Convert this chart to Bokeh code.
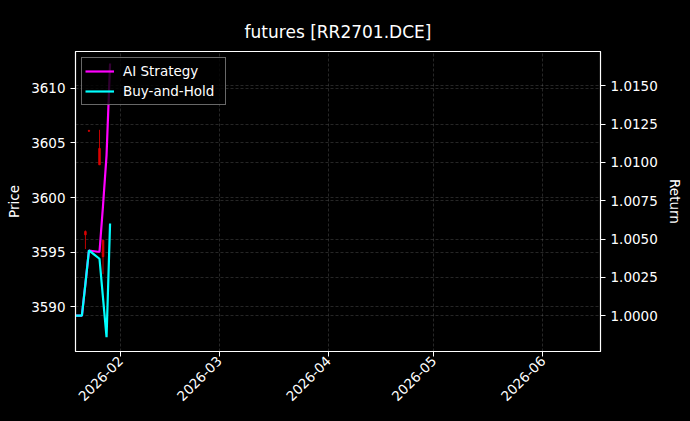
import math
from datetime import datetime
from bokeh.plotting import figure
from bokeh.models import (Range1d, LinearAxis, Grid, Legend, LegendItem, FixedTicker,
                          PrintfTickFormatter, DatetimeTickFormatter, Title,
                          SingleIntervalTicker)
from bokeh.embed import file_html
from bokeh.resources import INLINE

# ---------------- data ----------------
dates = ["2026-01-19", "2026-01-20", "2026-01-21", "2026-01-22", "2026-01-23",
         "2026-01-26", "2026-01-27", "2026-01-28", "2026-01-29"]
ai_strategy = [1.0000, 1.0000, 1.0000, 1.00209, 1.00425, 1.00415, 1.00719, 1.01046, 1.01647]
buy_and_hold = [1.0000, 1.0000, 1.0000, 1.00209, 1.00425, 1.00371, 1.00114, 0.99858, 1.00601]

candle_dates = ["2026-01-22", "2026-01-23", "2026-01-26", "2026-01-27"]
candle_open = [3596.9, 3606.12, 3604.5, 3596.1]
candle_high = [3597.0, 3606.2, 3606.2, 3596.1]
candle_low = [3595.3, 3606.0, 3603.0, 3593.0]
candle_close = [3596.6, 3606.08, 3603.0, 3594.6]

title_text = "futures [RR2701.DCE]"
left_label = "Price"
right_label = "Return"
month_ticks = ["2026-02-01", "2026-03-01", "2026-04-01", "2026-05-01", "2026-06-01"]

# ---------------- helpers ----------------
EPOCH = datetime(1970, 1, 1)

def to_dt(s):
    return datetime.strptime(s, "%Y-%m-%d")

def to_ms(dt):
    return (dt - EPOCH).total_seconds() * 1000.0

xd = [to_dt(d) for d in dates]
cd = [to_dt(d) for d in candle_dates]
tick_ms = [to_ms(to_dt(d)) for d in month_ticks]

FONT = "DejaVu Sans"
TICK_FS = "13.5px"

p = figure(width=690, height=421, x_axis_type="datetime",
           output_backend="svg", toolbar_location=None,
           x_range=Range1d(datetime(2026, 1, 19, 4, 19), datetime(2026, 6, 17, 8, 10)),
           y_range=Range1d(3585.93, 3613.36),
           min_border_left=75, min_border_right=90, min_border_top=51, min_border_bottom=70)
p.background_fill_color = "black"
p.border_fill_color = "black"
p.outline_line_color = "white"
p.outline_line_width = 1.2

p.extra_y_ranges = {"ret": Range1d(0.99765, 1.01725)}

# candles (price, left axis)
p.segment(x0=cd, y0=candle_low, x1=cd, y1=candle_high, color="#e00000", line_width=1, line_alpha=0.85)
p.vbar(x=cd, top=[max(o, c) for o, c in zip(candle_open, candle_close)],
       bottom=[min(o, c) for o, c in zip(candle_open, candle_close)],
       width=0.45 * 86400000, fill_color="#e00000", line_color="#e00000", alpha=0.85)

# strategy lines (return, right axis)
r_ai = p.line(xd, ai_strategy, y_range_name="ret", line_color="#ff00ff", line_width=2.2)
r_bh = p.line(xd, buy_and_hold, y_range_name="ret", line_color="#00ffff", line_width=2.2)

# axes styling
def style_axis(ax):
    ax.axis_line_color = "white"
    ax.major_tick_line_color = "white"
    ax.minor_tick_line_color = None
    ax.major_tick_out = 5
    ax.major_tick_in = 0
    ax.major_label_text_color = "white"
    ax.major_label_text_font = FONT
    ax.major_label_text_font_size = TICK_FS
    ax.axis_label_text_color = "white"
    ax.axis_label_text_font = FONT
    ax.axis_label_text_font_size = TICK_FS
    ax.axis_label_text_font_style = "normal"

xa = p.xaxis[0]
style_axis(xa)
xa.ticker = FixedTicker(ticks=tick_ms)
xa.formatter = DatetimeTickFormatter(months="%Y-%m", days="%Y-%m", years="%Y-%m",
                                     hours="%Y-%m", minutes="%Y-%m")
xa.major_label_orientation = math.pi / 4
xa.major_label_standoff = 2

ya = p.yaxis[0]
style_axis(ya)
ya.ticker = SingleIntervalTicker(interval=5, num_minor_ticks=0)
ya.axis_label = left_label
ya.axis_label_standoff = 6

ra = LinearAxis(y_range_name="ret", axis_label=right_label)
style_axis(ra)
ra.ticker = SingleIntervalTicker(interval=0.0025, num_minor_ticks=0)
ra.formatter = PrintfTickFormatter(format="%.4f")
ra.axis_label_standoff = 6
p.add_layout(ra, "right")

# grids
for g in (p.xgrid[0], p.ygrid[0]):
    g.grid_line_color = "#808080"
    g.grid_line_dash = "3 2"
    g.grid_line_width = 0.6
    g.grid_line_alpha = 0.5
p.xgrid[0].ticker = xa.ticker
p.ygrid[0].ticker = ya.ticker
rg = Grid(dimension=1, ticker=ra.ticker, y_range_name="ret",
          grid_line_color="#808080", grid_line_dash="3 2", grid_line_width=0.6, grid_line_alpha=0.5)
p.add_layout(rg)

# title first, then an invisible spacer between it and the frame
main_title = Title(text=title_text, align="center", vertical_align="top", standoff=16,
                   text_color="white", text_font=FONT, text_font_size="17px",
                   text_font_style="normal")
p.add_layout(main_title, "above")
spacer = Title(text=" ", text_font_size="1px", text_alpha=0, standoff=10)
p.add_layout(spacer, "above")

# legend
leg = Legend(items=[LegendItem(label="AI Strategy", renderers=[r_ai]),
                    LegendItem(label="Buy-and-Hold", renderers=[r_bh])],
             location="top_left")
leg.background_fill_color = "black"
leg.background_fill_alpha = 0.8
leg.border_line_color = "#d0d0d0"
leg.border_line_width = 1
leg.label_text_color = "white"
leg.label_text_font = FONT
leg.label_text_font_size = TICK_FS
leg.glyph_width = 29
leg.glyph_height = 20
leg.label_height = 20
leg.label_width = 99
leg.label_standoff = 9
leg.padding = 3
leg.spacing = 0
leg.margin = 6
p.add_layout(leg)

html = file_html(p, INLINE)
html = html.replace("</head>",
                    "<style>html,body{margin:0;padding:0;background-color:#000000;overflow:hidden;}</style></head>", 1)
open("out.html", "w").write(html)
